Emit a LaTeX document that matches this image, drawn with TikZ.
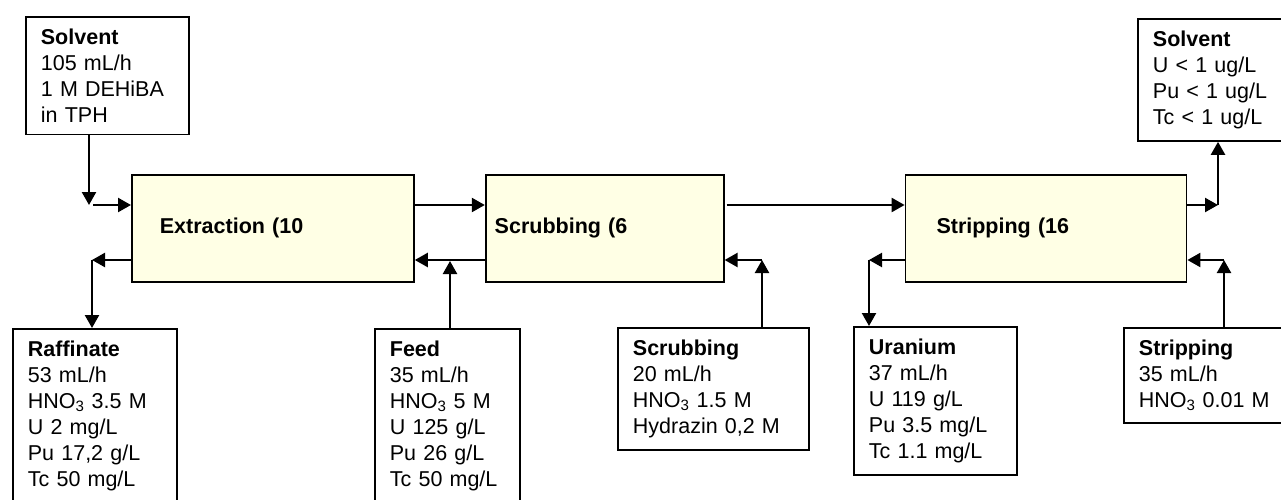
\documentclass[tikz,border=0pt]{standalone}
\usepackage{fontspec}
\setmainfont{Liberation Sans}
\usetikzlibrary{positioning,arrows.meta}
\definecolor{unitfill}{RGB}{255,255,229}

\begin{document}
\begin{tikzpicture}[
    x=1pt, y=-1pt, font=\fontsize{21.5}{26}\selectfont, >={Triangle[length=13pt,width=14pt]},
    unit/.style={draw=black, line width=1.8pt, fill=unitfill, align=left,
                 font=\fontsize{21.5}{26}\selectfont\bfseries, minimum height=107pt},
    stream/.style={draw=black, line width=1.8pt, fill=white, align=left, anchor=north west,
                   inner xsep=15pt, inner ysep=12pt},
    flow/.style={->, line width=2.3pt},
]
\useasboundingbox (0,0) rectangle (1281,500);
\clip (0,0) rectangle (1281,500);

% contactors
\node[unit, anchor=north west, inner xsep=28pt, text width=226pt] (extr) at (131,174) {Extraction (10};
\node[unit, right=70pt of extr, inner xsep=9pt, text width=220pt] (scrub) {Scrubbing (6};
\node[unit, right=180pt of scrub, inner xsep=31pt, text width=219pt] (strip) {Stripping (16};

% streams
\node[stream, text width=133pt] (solvin) at (25,16) {\textbf{Solvent}\\105 mL/h\\1 M DEHiBA\\in TPH};
\node[stream, text width=150pt] (solvout) at (1137,18) {\textbf{Solvent}\\U < 1 ug/L\\Pu < 1 ug/L\\Tc < 1 ug/L};
\node[stream, text width=134pt] (raff) at (12,328)
    {\textbf{Raffinate}\\53 mL/h\\HNO\textsubscript{3} 3.5 M\\U 2 mg/L\\Pu 17,2 g/L\\Tc 50 mg/L};
\node[stream, text width=115pt] (feed) at (374,328)
    {\textbf{Feed}\\35 mL/h\\HNO\textsubscript{3} 5 M\\U 125 g/L\\Pu 26 g/L\\Tc 50 mg/L};
\node[stream, text width=161pt] (scrin) at (617,327)
    {\textbf{Scrubbing}\\20 mL/h\\HNO\textsubscript{3} 1.5 M\\Hydrazin 0,2 M};
\node[stream, text width=133pt] (uran) at (853,326)
    {\textbf{Uranium}\\37 mL/h\\U 119 g/L\\Pu 3.5 mg/L\\Tc 1.1 mg/L};
\node[stream, text width=150pt] (strin) at (1123,327)
    {\textbf{Stripping}\\35 mL/h\\HNO\textsubscript{3} 0.01 M};

% junction points
\coordinate (upper) at (0,205);
\coordinate (jin) at (89,205);
\coordinate (jout) at (1218,205);
\coordinate (jraf) at (92,260);
\coordinate (jfeed) at (450,261);
\coordinate (jscr) at (762,260);
\coordinate (juran) at (869,260);
\coordinate (jstr) at (1224,260);

% organic phase
\draw[flow] (solvin.south -| jin) -- (jin);
\draw[flow] ([xshift=4pt]jin) -- (extr.west |- jin);
\draw[flow] (extr.east |- upper) -- (scrub.west |- upper);
\draw[flow] ([xshift=2pt]scrub.east |- upper) -- (strip.west |- upper);
\draw[flow] (strip.east |- jout) -- (jout);
\draw[flow] (jout) -- (solvout.south -| jout);

% aqueous phase
\draw[flow] (scrub.west |- jraf) -- (extr.east |- jraf);
\draw[flow] (feed.north -| jfeed) -- (jfeed);
\draw[flow] (scrin.north -| jscr) -- (jscr);
\draw[flow] (jscr) -- (scrub.east |- jscr);
\draw[flow] (strin.north -| jstr) -- (jstr);
\draw[flow] (jstr) -- (strip.east |- jstr);
\draw[flow] (extr.west |- jraf) -- (jraf);
\draw[flow] (jraf) -- (raff.north -| jraf);
\draw[flow] (strip.west |- juran) -- (juran);
\draw[flow] (juran) -- (uran.north -| juran);
\end{tikzpicture}
\end{document}
